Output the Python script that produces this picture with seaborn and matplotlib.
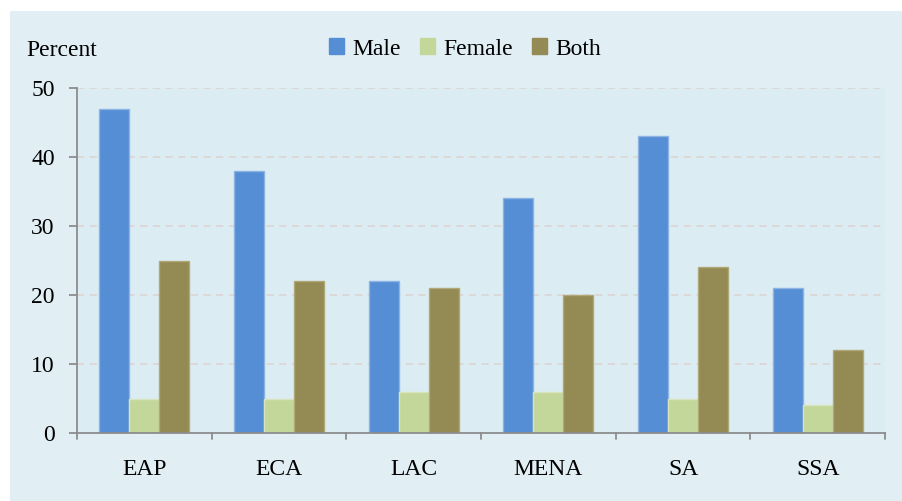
import matplotlib
matplotlib.use("Agg")
import matplotlib.pyplot as plt
from matplotlib.patches import Rectangle
import seaborn as sns
import pandas as pd

regions = ["EAP", "ECA", "LAC", "MENA", "SA", "SSA"]
male = [47, 38, 22, 34, 43, 21]
female = [5, 5, 6, 6, 5, 4]
both = [25, 22, 21, 20, 24, 12]
series = ["Male", "Female", "Both"]
colors = ["#558ED5", "#C4D79B", "#948A54"]
edges = ["#8DB3E2", "#D7E4BD", "#B0A878"]
yticks = [0, 10, 20, 30, 40, 50]

df = pd.DataFrame({
    "region": regions * 3,
    "value": male + female + both,
    "group": sum([[s] * len(regions) for s in series], []),
})

sns.set_theme(style="white")
plt.rcParams["font.family"] = ["Liberation Serif", "DejaVu Serif"]
plt.rcParams["text.color"] = "black"

W, H = 903, 501
FS = 17
fig = plt.figure(figsize=(W / 100, H / 100), dpi=100, facecolor="white")

# light-blue panel behind the chart, leaving a thin white margin top and left
bg = fig.add_axes([0, 0, 1, 1], zorder=-10)
bg.set_axis_off()
bg.set_xlim(0, 1)
bg.set_ylim(0, 1)
bg.add_patch(Rectangle((10 / W, 0), 1 - 10 / W, 1 - 11 / H,
                       facecolor="#E1EFF5", edgecolor="none"))

ax = fig.add_axes([77 / W, (H - 433) / H, (885 - 77) / W, (433 - 88) / H], zorder=1)
ax.set_facecolor("#DBEDF3")

sns.barplot(data=df, x="region", y="value", hue="group", hue_order=series,
            palette=colors, saturation=1, width=0.67, gap=0, dodge=True, ax=ax,
            errorbar=None, legend=True)

# per-series light outlines
for container, ec in zip(ax.containers, edges):
    for bar in container:
        bar.set_edgecolor(ec)
        bar.set_linewidth(1.0)

ax.set_ylim(0, 50)
ax.set_xlim(-0.5, len(regions) - 0.5)
ax.set_yticks(yticks)
ax.set_yticklabels([str(t) for t in yticks], fontsize=FS)
ax.set_xticks(range(len(regions)))
ax.set_xticklabels(regions, fontsize=FS)
ax.set_xlabel("")
ax.set_ylabel("")

for t in yticks[1:]:
    ax.axhline(t, color="#DDD6D6", lw=1.3, ls=(0, (4, 3)), zorder=0.5)

for s in ["top", "right"]:
    ax.spines[s].set_visible(False)
for s in ["left", "bottom"]:
    ax.spines[s].set_color("#8C8C8C")
    ax.spines[s].set_linewidth(1.3)

ax.tick_params(axis="y", left=True, length=6, width=1.3, color="#8C8C8C",
               pad=10, labelcolor="black")
ax.tick_params(axis="x", bottom=False, pad=13, labelcolor="black")
# category-boundary tick marks on the x axis
for b in [i - 0.5 for i in range(len(regions) + 1)]:
    ax.plot([b, b], [0, -0.018], transform=ax.get_xaxis_transform(),
            color="#8C8C8C", lw=1.3, clip_on=False)

fig.text(26 / W, 1 - 50 / H, "Percent", fontsize=FS, va="center", ha="left",
         color="black")

leg = ax.legend(loc="center", bbox_to_anchor=(465 / W, 1 - 49 / H),
                bbox_transform=fig.transFigure, ncol=3, frameon=False,
                fontsize=FS, handlelength=0.65, handleheight=0.65,
                handletextpad=0.35, columnspacing=0.8)
for h, c in zip(leg.legend_handles, colors):
    h.set_edgecolor(c)
for t in leg.get_texts():
    t.set_color("black")

fig.savefig("out.png", dpi=100, facecolor=fig.get_facecolor())
